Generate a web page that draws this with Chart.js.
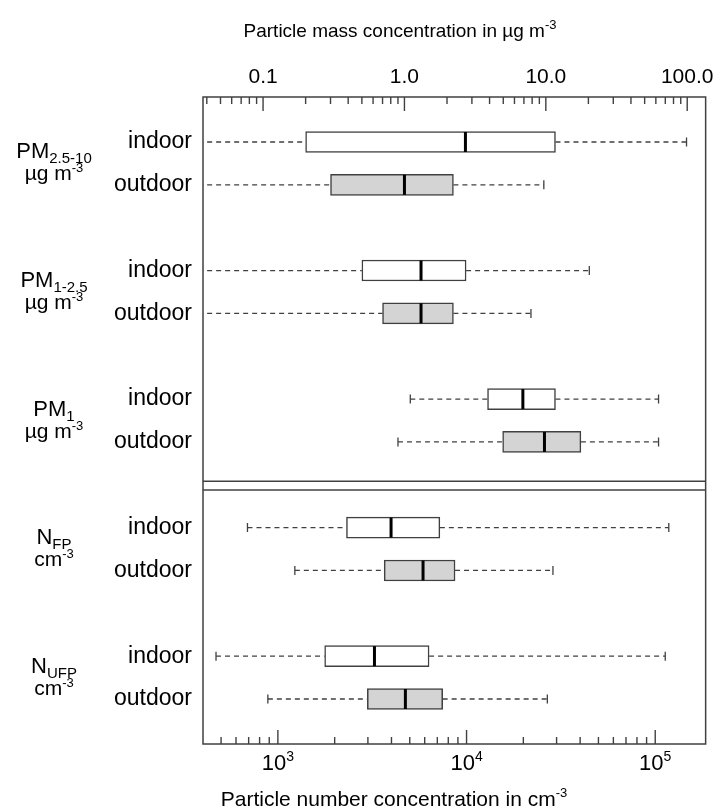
<!DOCTYPE html>
<html>
<head>
<meta charset="utf-8">
<script src="https://cdn.jsdelivr.net/npm/chart.js@4.4.0/dist/chart.umd.min.js"></script>
<style>
  html, body { margin: 0; padding: 0; background: #fff; }
  #wrap { width: 721px; height: 812px; }
</style>
</head>
<body>
<div id="wrap"><canvas id="chart"></canvas></div>
<script>
// groups, top to bottom; every group has an indoor and an outdoor box
var groupNames = ['PM', 'PM', 'PM', 'N', 'N'];
var groupSubs  = ['2.5-10', '1-2.5', '1', 'FP', 'UFP'];
var groupUnits = ['µg m', 'µg m', 'µg m', 'cm', 'cm'];
var siteLabels = ['indoor', 'outdoor'];

// mass concentration in µg m-3  [indoor, outdoor] for PM2.5-10, PM1-2.5, PM1
// (lower whiskers of the first two groups run off the left edge of the axis)
var massMin    = [[0.03, 0.03], [0.03, 0.03], [1.10, 0.90]];
var massQ1     = [[0.20, 0.30], [0.50, 0.70], [3.87, 4.95]];
var massMedian = [[2.70, 1.00], [1.31, 1.31], [6.88, 9.78]];
var massQ3     = [[11.7, 2.22], [2.73, 2.22], [11.7, 17.7]];
var massMax    = [[98.9, 9.68], [20.3, 7.85], [62.7, 62.7]];

// number concentration in cm-3  [indoor, outdoor] for NFP, NUFP
var numMin    = [[690, 1230], [470, 885]];
var numQ1     = [[2310, 3660], [1770, 2980]];
var numMedian = [[3980, 5880], [3250, 4740]];
var numQ3     = [[7220, 8690], [6330, 7470]];
var numMax    = [[118000, 28700], [113000, 26800]];

// axes
var massTicks = [0.1, 1, 10, 100];
var massTickLabels = ['0.1', '1.0', '10.0', '100.0'];
var numTicks = [1e3, 1e4, 1e5];
var numTickExp = ['3', '4', '5'];

var FONT = "'Liberation Sans', Arial, sans-serif";
var LINE = '#404040';
var BOX_H = 21;

function boxSet(q1, q3, mn, md, mx, g0, j) {
    return {
        data: q1.map(function (r, i) { return { y: 3 * (g0 + i) + j, x: [r[j], q3[i][j]] }; }),
        stats: q1.map(function (r, i) { return { min: mn[i][j], med: md[i][j], max: mx[i][j] }; })
    };
}

function logTicks(min, max) {
    // major decades plus 2..9 minor marks inside the range
    var out = [];
    var e0 = Math.floor(Math.log10(min)), e1 = Math.ceil(Math.log10(max));
    for (var e = e0; e <= e1; e++) {
        for (var m = 1; m < 10; m++) {
            var v = m * Math.pow(10, e);
            if (v >= min && v <= max) out.push({ value: v, major: m === 1 });
        }
    }
    return out;
}

function richText(ctx, parts, cx, base) {
    var w = 0;
    parts.forEach(function (p) { ctx.font = p.size + 'px ' + FONT; p.w = ctx.measureText(p.t).width; w += p.w; });
    var x = cx - w / 2;
    ctx.textAlign = 'left';
    ctx.textBaseline = 'alphabetic';
    parts.forEach(function (p) {
        ctx.font = p.size + 'px ' + FONT;
        ctx.fillText(p.t, x, base + (p.dy || 0));
        x += p.w;
    });
}

var boxExtras = {
    id: 'boxExtras',
    beforeDatasetsDraw: function (chart) {
        var ctx = chart.ctx, a = chart.chartArea, ys = chart.scales.y;
        ctx.save();
        ctx.beginPath();
        ctx.rect(a.left, a.top, a.right - a.left, a.bottom - a.top);
        ctx.clip();
        ctx.strokeStyle = LINE;
        ctx.lineWidth = 1.3;
        chart.data.datasets.forEach(function (ds) {
            var xs = chart.scales[ds.xAxisID];
            ds.data.forEach(function (d, i) {
                var st = ds.stats[i], py = ys.getPixelForValue(d.y);
                var pMin = xs.getPixelForValue(st.min), pMax = xs.getPixelForValue(st.max);
                var pQ1 = xs.getPixelForValue(d.x[0]), pQ3 = xs.getPixelForValue(d.x[1]);
                ctx.setLineDash([5, 4]);
                ctx.beginPath();
                ctx.moveTo(pMin, py); ctx.lineTo(pQ1, py);
                ctx.moveTo(pQ3, py); ctx.lineTo(pMax, py);
                ctx.stroke();
                ctx.setLineDash([]);
                ctx.beginPath();
                ctx.moveTo(pMin, py - 4.5); ctx.lineTo(pMin, py + 4.5);
                ctx.moveTo(pMax, py - 4.5); ctx.lineTo(pMax, py + 4.5);
                ctx.stroke();
            });
        });
        ctx.restore();
    },
    afterDatasetsDraw: function (chart) {
        var ctx = chart.ctx, a = chart.chartArea, ys = chart.scales.y;
        var xm = chart.scales.xm, xn = chart.scales.xn;
        ctx.save();

        // medians
        ctx.strokeStyle = '#000';
        ctx.lineWidth = 3;
        chart.data.datasets.forEach(function (ds) {
            var xs = chart.scales[ds.xAxisID];
            ds.data.forEach(function (d, i) {
                var px = xs.getPixelForValue(ds.stats[i].med), py = ys.getPixelForValue(d.y);
                ctx.beginPath();
                ctx.moveTo(px, py - BOX_H / 2 + 0.5); ctx.lineTo(px, py + BOX_H / 2 - 0.5);
                ctx.stroke();
            });
        });

        // frame and the double line between the two panels
        ctx.strokeStyle = LINE;
        ctx.lineWidth = 1.5;
        ctx.strokeRect(a.left, a.top, a.right - a.left, a.bottom - a.top);
        [7.92, 8.12].forEach(function (v) {
            var py = ys.getPixelForValue(v);
            ctx.beginPath(); ctx.moveTo(a.left, py); ctx.lineTo(a.right, py); ctx.stroke();
        });

        // inward tick marks
        ctx.lineWidth = 1.4;
        xm.ticks.forEach(function (t) {
            var px = xm.getPixelForValue(t.value), len = t.major ? 14 : 7;
            ctx.beginPath(); ctx.moveTo(px, a.top); ctx.lineTo(px, a.top + len); ctx.stroke();
        });
        xn.ticks.forEach(function (t) {
            var px = xn.getPixelForValue(t.value), len = t.major ? 14 : 7;
            ctx.beginPath(); ctx.moveTo(px, a.bottom); ctx.lineTo(px, a.bottom - len); ctx.stroke();
        });

        ctx.fillStyle = '#000';
        // bottom tick labels 10^n
        numTicks.forEach(function (v, i) {
            richText(ctx, [{ t: '10', size: 22 }, { t: numTickExp[i], size: 14, dy: -9 }],
                xn.getPixelForValue(v), a.bottom + 26);
        });

        // axis titles
        richText(ctx, [{ t: 'Particle mass concentration in µg m', size: 19 }, { t: '-3', size: 13, dy: -8 }],
            400, 37);
        richText(ctx, [{ t: 'Particle number concentration in cm', size: 21 }, { t: '-3', size: 13, dy: -9 }],
            394, 806);

        // group labels
        groupNames.forEach(function (n, g) {
            var cy = ys.getPixelForValue(3 * g + 0.5);
            richText(ctx, [{ t: n, size: 22 }, { t: groupSubs[g], size: 15, dy: 5 }], 54, cy - 5);
            richText(ctx, [{ t: groupUnits[g], size: 21 }, { t: '-3', size: 13, dy: -8 }], 54, cy + 17);
        });
        ctx.restore();
    }
};

var mi = boxSet(massQ1, massQ3, massMin, massMedian, massMax, 0, 0);
var mo = boxSet(massQ1, massQ3, massMin, massMedian, massMax, 0, 1);
var ni = boxSet(numQ1, numQ3, numMin, numMedian, numMax, 3, 0);
var no = boxSet(numQ1, numQ3, numMin, numMedian, numMax, 3, 1);

var common = {
    yAxisID: 'y',
    borderColor: LINE,
    borderWidth: 1.5,
    borderSkipped: false,
    barThickness: BOX_H,
    grouped: false
};

new Chart(document.getElementById('chart'), {
    type: 'bar',
    data: {
        datasets: [
            Object.assign({ label: 'mass indoor', xAxisID: 'xm', data: mi.data, stats: mi.stats, backgroundColor: '#ffffff' }, common),
            Object.assign({ label: 'mass outdoor', xAxisID: 'xm', data: mo.data, stats: mo.stats, backgroundColor: '#d4d4d4' }, common),
            Object.assign({ label: 'number indoor', xAxisID: 'xn', data: ni.data, stats: ni.stats, backgroundColor: '#ffffff' }, common),
            Object.assign({ label: 'number outdoor', xAxisID: 'xn', data: no.data, stats: no.stats, backgroundColor: '#d4d4d4' }, common)
        ]
    },
    options: {
        indexAxis: 'y',
        responsive: true,
        maintainAspectRatio: false,
        animation: false,
        layout: { padding: { right: 14 } },
        plugins: { legend: { display: false }, tooltip: { enabled: false } },
        scales: {
            y: {
                type: 'linear', position: 'left', reverse: true, offset: false,
                min: -1.05, max: 14.05,
                afterBuildTicks: function (s) {
                    var t = [];
                    groupNames.forEach(function (n, g) { t.push({ value: 3 * g }, { value: 3 * g + 1 }); });
                    s.ticks = t;
                },
                ticks: {
                    autoSkip: false, padding: 11, color: '#000',
                    font: { family: FONT, size: 23 },
                    callback: function (v) { return siteLabels[v % 3]; }
                },
                grid: { display: false, drawTicks: false, offset: false },
                border: { display: false },
                afterFit: function (s) { s.width = 203; }
            },
            xm: {
                type: 'logarithmic', position: 'top',
                min: 0.0376, max: 135,
                afterBuildTicks: function (s) { s.ticks = logTicks(s.min, s.max); },
                ticks: {
                    autoSkip: false, maxRotation: 0, minRotation: 0, padding: 7, color: '#000',
                    font: { family: FONT, size: 21 },
                    callback: function (v) {
                        var k = massTicks.findIndex(function (m) { return Math.abs(m - v) < m * 1e-6; });
                        return k < 0 ? '' : massTickLabels[k];
                    }
                },
                grid: { display: false, drawTicks: false },
                border: { display: false },
                afterFit: function (s) { s.height = 97; }
            },
            xn: {
                type: 'logarithmic', position: 'bottom',
                min: 401, max: 185000,
                afterBuildTicks: function (s) { s.ticks = logTicks(s.min, s.max); },
                ticks: { display: false },
                grid: { display: false, drawTicks: false },
                border: { display: false },
                afterFit: function (s) { s.height = 68; }
            }
        }
    },
    plugins: [boxExtras]
});
</script>
</body>
</html>
